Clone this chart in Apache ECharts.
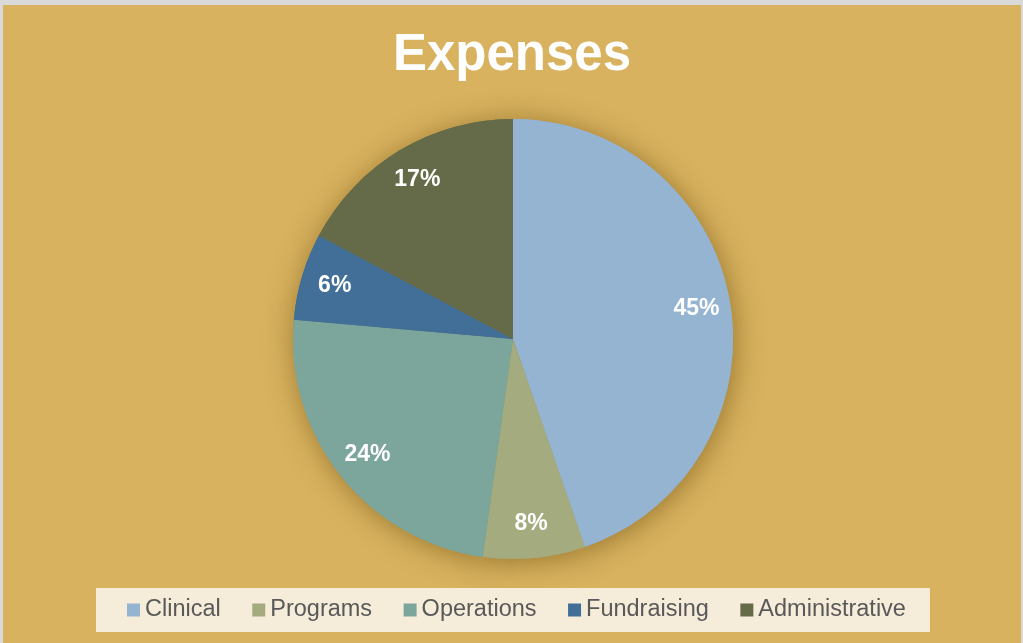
<!DOCTYPE html>
<html>
<head>
<meta charset="utf-8">
<script src="https://cdn.jsdelivr.net/npm/echarts@6/dist/echarts.min.js"></script>
<style>
  html, body { margin: 0; padding: 0; background: #d9d9d9; }
  #chart { position: absolute; left: 3px; top: 5px; width: 1018px; height: 638px; }
</style>
</head>
<body>
<div id="chart"></div>
<script>
// expense shares
var categories = ['Clinical', 'Programs', 'Operations', 'Fundraising', 'Administrative']
var values = [44.7, 7.5, 24.2, 6.4, 17.2]
var colors = ['#95B4D2', '#A4AB7E', '#7CA69C', '#416F98', '#656B48']

var myChart = echarts.init(document.getElementById('chart'))

var pieCenter = [510, 334]

function makeData(styleFn) {
  return categories.map(function (name, i) {
    return { name: name, value: values[i], itemStyle: styleFn(i) }
  })
}

var options = {
  backgroundColor: '#D8B25E',
  animation: false,
  title: {
    text: 'Expenses',
    left: 'center',
    top: 20,
    textStyle: {
      color: '#fff',
      fontSize: 51,
      fontWeight: 'bold',
      fontFamily: 'Liberation Sans, Arial, sans-serif'
    }
  },
  legend: {
    data: categories,
    left: 93,
    top: 583,
    backgroundColor: '#F5ECDA',
    padding: [10, 24, 10, 31],
    itemWidth: 13,
    itemHeight: 13,
    itemGap: 31.5,
    icon: 'rect',
    textStyle: {
      color: '#595959',
      fontSize: 23.5,
      fontFamily: 'Liberation Sans, Arial, sans-serif'
    }
  },
  series: [
    {
      // shadow layer underneath, so shadows never fall on neighbouring slices
      type: 'pie',
      z: 1,
      center: pieCenter,
      radius: [0, 220],
      startAngle: 90,
      clockwise: true,
      silent: true,
      legendHoverLink: false,
      label: { show: false },
      labelLine: { show: false },
      emphasis: { disabled: true },
      data: makeData(function (i) {
        return {
          color: colors[i],
          borderWidth: 0,
          shadowBlur: 28,
          shadowColor: 'rgba(90, 60, 0, 0.5)',
          shadowOffsetX: 2,
          shadowOffsetY: 3
        }
      })
    },
    {
      // the visible pie
      type: 'pie',
      z: 2,
      center: pieCenter,
      radius: [0, 220],
      startAngle: 90,
      clockwise: true,
      label: { show: false },
      labelLine: { show: false },
      emphasis: { disabled: true },
      data: makeData(function (i) {
        return { color: colors[i], borderWidth: 0 }
      })
    },
    {
      // transparent twin, only for the label positions (~83% of radius)
      type: 'pie',
      z: 3,
      center: pieCenter,
      radius: [0, 366],
      startAngle: 90,
      clockwise: true,
      silent: true,
      legendHoverLink: false,
      percentPrecision: 0,
      label: {
        show: true,
        position: 'inside',
        formatter: '{d}%',
        color: '#fff',
        fontSize: 23,
        fontWeight: 'bold',
        fontFamily: 'Liberation Sans, Arial, sans-serif'
      },
      labelLine: { show: false },
      emphasis: { disabled: true },
      data: makeData(function () {
        return { color: 'rgba(0,0,0,0)', borderWidth: 0 }
      })
    }
  ]
}
myChart.setOption(options)
</script>
</body>
</html>
